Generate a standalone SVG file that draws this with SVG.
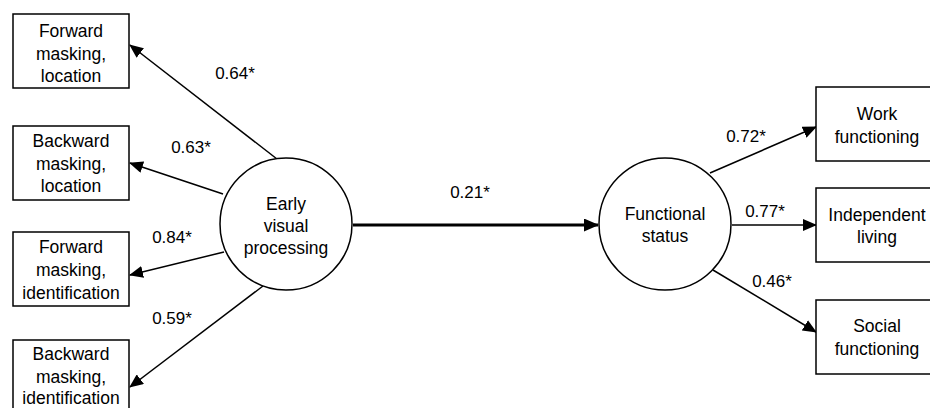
<svg xmlns="http://www.w3.org/2000/svg" width="930" height="408" viewBox="0 0 930 408">
<style>
.box{fill:#fff;stroke:#000;stroke-width:1.5}
.node{fill:#fff;stroke:#000;stroke-width:1.5}
text{font-family:"Liberation Sans",Arial,sans-serif;font-size:17.5px;fill:#000;text-anchor:middle}
.lbl{font-size:17px}
.c{stroke:#000;stroke-width:1.5;fill:none}
.thick{stroke:#000;stroke-width:3;fill:none}
</style>
<defs>
<marker id="ah" markerUnits="userSpaceOnUse" markerWidth="14" markerHeight="12" refX="13" refY="6" orient="auto">
<path d="M0,0 L14,6 L0,12 Z" fill="#000"/>
</marker>
<marker id="ahb" markerUnits="userSpaceOnUse" markerWidth="15" markerHeight="13" refX="14" refY="6.5" orient="auto">
<path d="M0,0 L15,6.5 L0,13 Z" fill="#000"/>
</marker>
</defs>
<g id="connectors">
<line class="c" x1="277" y1="159" x2="130" y2="45" marker-end="url(#ah)"/>
<line class="c" x1="223" y1="194" x2="130" y2="163" marker-end="url(#ah)"/>
<line class="c" x1="224" y1="252" x2="130" y2="275" marker-end="url(#ah)"/>
<line class="c" x1="263" y1="286" x2="130" y2="387" marker-end="url(#ah)"/>
<line class="thick" x1="353" y1="225" x2="598" y2="225" marker-end="url(#ahb)"/>
<line class="c" x1="710" y1="173" x2="816" y2="127" marker-end="url(#ah)"/>
<line class="c" x1="732" y1="225" x2="816" y2="225" marker-end="url(#ah)"/>
<line class="c" x1="713" y1="270" x2="816" y2="332" marker-end="url(#ah)"/>
<text class="lbl" x="235" y="79">0.64*</text>
<text class="lbl" x="191" y="153">0.63*</text>
<text class="lbl" x="172" y="243">0.84*</text>
<text class="lbl" x="172" y="324">0.59*</text>
<text class="lbl" x="470" y="198">0.21*</text>
<text class="lbl" x="746" y="142">0.72*</text>
<text class="lbl" x="765" y="217">0.77*</text>
<text class="lbl" x="772" y="287">0.46*</text>
</g>
<g id="n-fml">
<rect class="box" x="13" y="14" width="116" height="74"/>
<text x="71" y="37">Forward</text><text x="71" y="59.5">masking,</text><text x="71" y="82">location</text>
</g>
<g id="n-bml">
<rect class="box" x="13" y="126" width="116" height="74"/>
<text x="71" y="147">Backward</text><text x="71" y="169.5">masking,</text><text x="71" y="192">location</text>
</g>
<g id="n-fmi">
<rect class="box" x="13" y="232" width="116" height="74"/>
<text x="71" y="253">Forward</text><text x="71" y="276">masking,</text><text x="71" y="299">identification</text>
</g>
<g id="n-bmi">
<rect class="box" x="13" y="340" width="116" height="74"/>
<text x="71" y="360">Backward</text><text x="71" y="382.5">masking,</text><text x="71" y="404">identification</text>
</g>
<g id="n-evp">
<circle class="node" cx="286" cy="224" r="66"/>
<text x="286" y="210">Early</text><text x="286" y="232">visual</text><text x="286" y="254">processing</text>
</g>
<g id="n-fs">
<circle class="node" cx="665" cy="224" r="66"/>
<text x="665" y="220">Functional</text><text x="665" y="242">status</text>
</g>
<g id="n-work">
<rect class="box" x="816" y="87" width="122" height="74"/>
<text x="877" y="120">Work</text><text x="877" y="143">functioning</text>
</g>
<g id="n-ind">
<rect class="box" x="816" y="188" width="122" height="74"/>
<text x="877" y="221">Independent</text><text x="877" y="243">living</text>
</g>
<g id="n-soc">
<rect class="box" x="816" y="300" width="122" height="74"/>
<text x="877" y="332">Social</text><text x="877" y="355">functioning</text>
</g>
</svg>
